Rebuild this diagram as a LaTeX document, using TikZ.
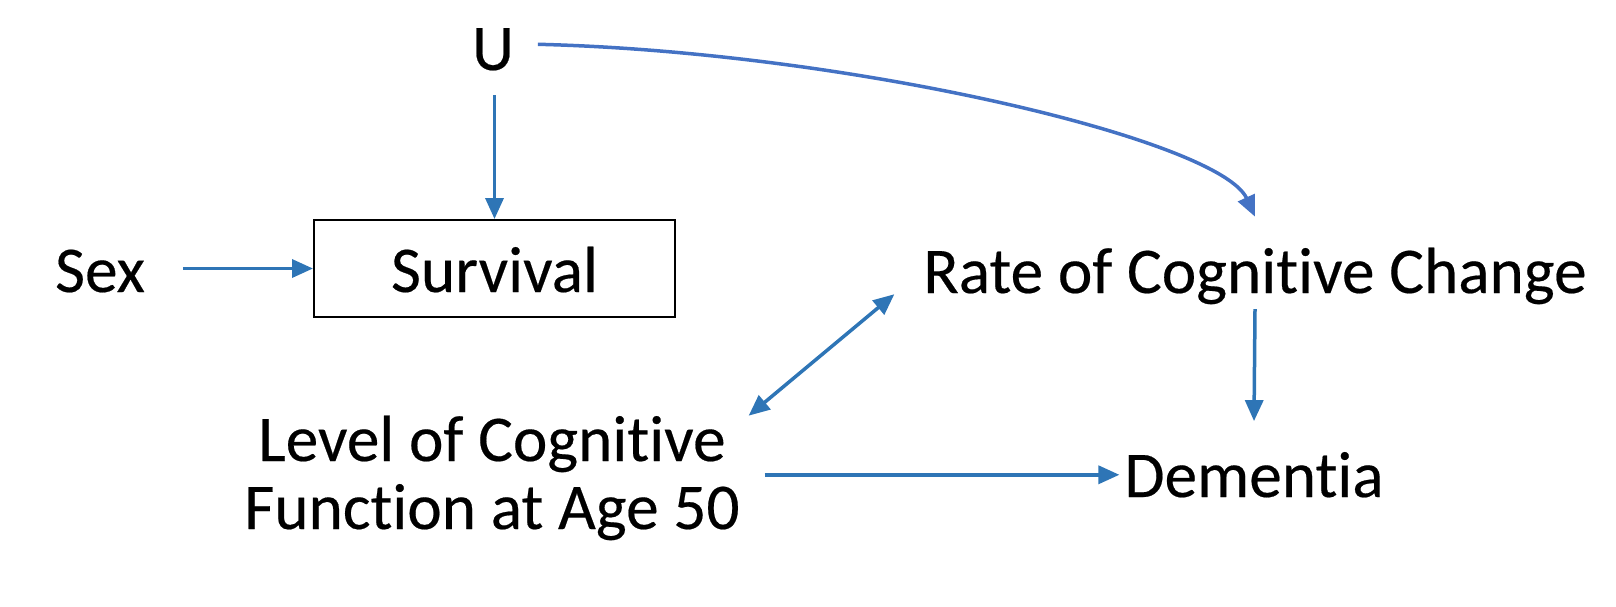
\documentclass[tikz,border=0pt]{standalone}
\usepackage{fontspec}
\setmainfont{Carlito}[Ligatures=NoCommon, FakeBold=0.3]
\usetikzlibrary{arrows.meta}
\definecolor{arrblue}{HTML}{2E75B6}
\definecolor{curveblue}{HTML}{4472C4}
\begin{document}
\begin{tikzpicture}[x=1pt,y=1pt,
  lbl/.style={inner sep=0pt, outer sep=0pt, font=\fontsize{65.3}{68}\selectfont},
  arr/.style={draw=arrblue, line width=3.5pt, -{Triangle[length=21pt,width=18pt]}},
  arrboth/.style={draw=arrblue, line width=3.5pt, {Triangle[length=21pt,width=18pt]}-{Triangle[length=21pt,width=18pt]}},
  arrc/.style={draw=curveblue, line width=3.5pt, -{Triangle[length=21pt,width=18pt]}},
  boxed/.style={draw=black, line width=2pt, minimum width=361pt, minimum height=97pt, inner sep=0pt}]
\useasboundingbox (0,0) rectangle (1616,-606);
\node[lbl, anchor=base] (U) at (493,-70) {U};
\node[lbl, anchor=base] (Sex) at (100,-292) {Sex};
\node[boxed] (surv) at (494.5,-268.5) {};
\node[lbl, anchor=base] (survtxt) at (494.5,-292) {Survival};
\node[lbl, anchor=base] (Rate) at (1255,-293) {Rate of Cognitive Change};
\node[lbl, anchor=base] (Dem) at (1254,-497) {Dementia};
\node[lbl, anchor=base, align=center] (Lev) at (492,-529) {Level of Cognitive\\Function at Age 50};
% connectors
\draw[arr] ([yshift=-25pt]U.south -| surv.north) -- (surv.north);
\draw[arr] ([xshift=38pt]Sex.east |- surv.west) -- (surv.west);
\draw[arrc] ([shift={(24pt,5pt)}]U.east) .. controls (850,-52) and (1220,-140) .. ([yshift=31pt]Rate.north);
\draw[arr] ([yshift=-5pt]Rate.south) -- ([yshift=31pt]Dem.north);
\draw[arr] ([xshift=25pt]Lev.east |- Dem.west) -- ([xshift=-5pt]Dem.west);
\draw[arrboth] ([shift={(9pt,0pt)}]Lev.north east) -- ([shift={(-29pt,10pt)}]Rate.south west);
\end{tikzpicture}
\end{document}
